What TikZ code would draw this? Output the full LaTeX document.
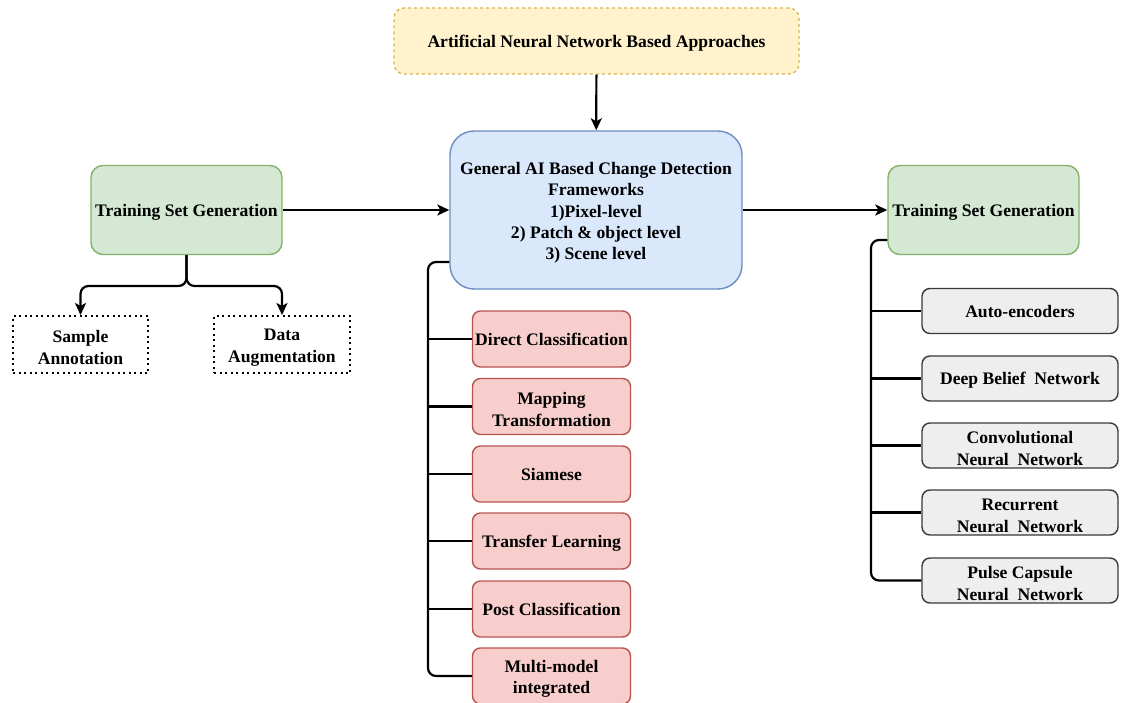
\documentclass[tikz,border=0pt]{standalone}
\usepackage{fontspec}
\setmainfont{Liberation Serif}
\usetikzlibrary{arrows.meta,calc}

\definecolor{yfill}{HTML}{FFF2CC}\definecolor{yline}{HTML}{D6B656}
\definecolor{bfill}{HTML}{DAE8FC}\definecolor{bline}{HTML}{6C8EBF}
\definecolor{gfill}{HTML}{D5E8D4}\definecolor{gline}{HTML}{82B366}
\definecolor{rfill}{HTML}{F8CECC}\definecolor{rline}{HTML}{B85450}
\definecolor{kfill}{HTML}{EEEEEE}\definecolor{kline}{HTML}{36393D}

% line boxes that keep labels evenly placed in their boxes
\newcommand{\lbstrut}{\rule[-3pt]{0pt}{19pt}}
\newcommand{\toprule}{\rule{0pt}{18pt}}

\tikzset{
  box/.style={font=\bfseries\fontsize{17.6}{21.3}\selectfont, align=center,
    inner sep=0pt, line width=1.4pt},
  one/.style={execute at begin node=\lbstrut, execute at end node=\lbstrut},
  topbox/.style={box, one, draw=yline, fill=yfill, dashed, rounded corners=10,
    minimum width=405, minimum height=66},
  mainbox/.style={box, draw=bline, fill=bfill, rounded corners=24,
    minimum width=292, minimum height=158},
  tsgbox/.style={box, one, draw=gline, fill=gfill, rounded corners=12,
    minimum width=191, minimum height=89},
  subbox/.style={box, draw=black, line width=2pt,
    dash pattern=on 2pt off 3.5pt, minimum width=135, minimum height=57},
  methodbox/.style={box, draw=rline, fill=rfill, rounded corners=8,
    minimum width=158, minimum height=56},
  netbox/.style={box, draw=kline, fill=kfill, rounded corners=8,
    minimum width=196, minimum height=45},
  conn/.style={line width=2.2pt, black},
  arr/.style={conn, -{Stealth[length=12pt,width=11pt,inset=3pt]}}
}

\begin{document}
\begin{tikzpicture}[x=1pt,y=-1pt]
\useasboundingbox (0,0) rectangle (1123,703);

% header and central framework
\node[topbox] (ann) at (596.5,41) {Artificial Neural Network Based Approaches};
\node[mainbox] (gai) at (596,210) {\toprule General AI Based Change Detection\\Frameworks\\1)Pixel-level\\2) Patch \& object level\\3) Scene level};

% training set generation on both sides
\node[tsgbox] (tsgL) at (186.5,210) {Training Set Generation};
\node[tsgbox] (tsgR) at (983.5,210) {Training Set Generation};

% sample preparation steps
\node[subbox] (sample) at (80.5,344.5) {\toprule Sample\\Annotation};
\node[subbox, minimum width=136] (augment) at (282,344.5) {\toprule Data\\Augmentation};

% framework categories
\node[methodbox, one] (m1) at (551.5,339) {Direct Classification};
\node[methodbox] (m2) at (551.5,406.5) {\toprule Mapping\\Transformation};
\node[methodbox, one] (m3) at (551.5,474) {Siamese};
\node[methodbox, one] (m4) at (551.5,541) {Transfer Learning};
\node[methodbox, one] (m5) at (551.5,609) {Post Classification};
\node[methodbox] (m6) at (551.5,676) {\toprule Multi-model\\integrated};

% network families
\node[netbox, one] (n1) at (1020,311) {Auto-encoders};
\node[netbox, one] (n2) at (1020,378.5) {Deep Belief\ \ Network};
\node[netbox] (n3) at (1020,445.5) {\toprule Convolutional\\Neural\ \ Network};
\node[netbox] (n4) at (1020,512.5) {\toprule Recurrent\\Neural\ \ Network};
\node[netbox] (n5) at (1020,580.5) {\toprule Pulse Capsule\\Neural\ \ Network};

% main flow
\draw[arr] (ann) -- (gai);
\draw[arr] (tsgL) -- (gai);
\draw[arr] (gai) -- (tsgR);

% fork below the left training set box
\coordinate (fork) at (186.5,286);
\draw[arr, rounded corners=8] (tsgL.south) -- (fork) -| (sample.north);
\draw[arr, rounded corners=8] (tsgL.south) -- (fork) -| (augment.north);

% bus of framework categories
\coordinate (cbus) at (428,0);
\draw[conn, rounded corners=8] ($(gai.west)+(0,52)$) -| (cbus |- m6) -- (m6.west);
\foreach \n in {m1,m2,m3,m4,m5} \draw[conn] (cbus |- \n) -- (\n.west);

% bus of network families
\coordinate (rbus) at (871,0);
\draw[conn, rounded corners=8] ($(tsgR.west)+(0,30)$) -| (rbus |- n5) -- (n5.west);
\foreach \n in {n1,n2,n3,n4} \draw[conn] (rbus |- \n) -- (\n.west);
\end{tikzpicture}
\end{document}
